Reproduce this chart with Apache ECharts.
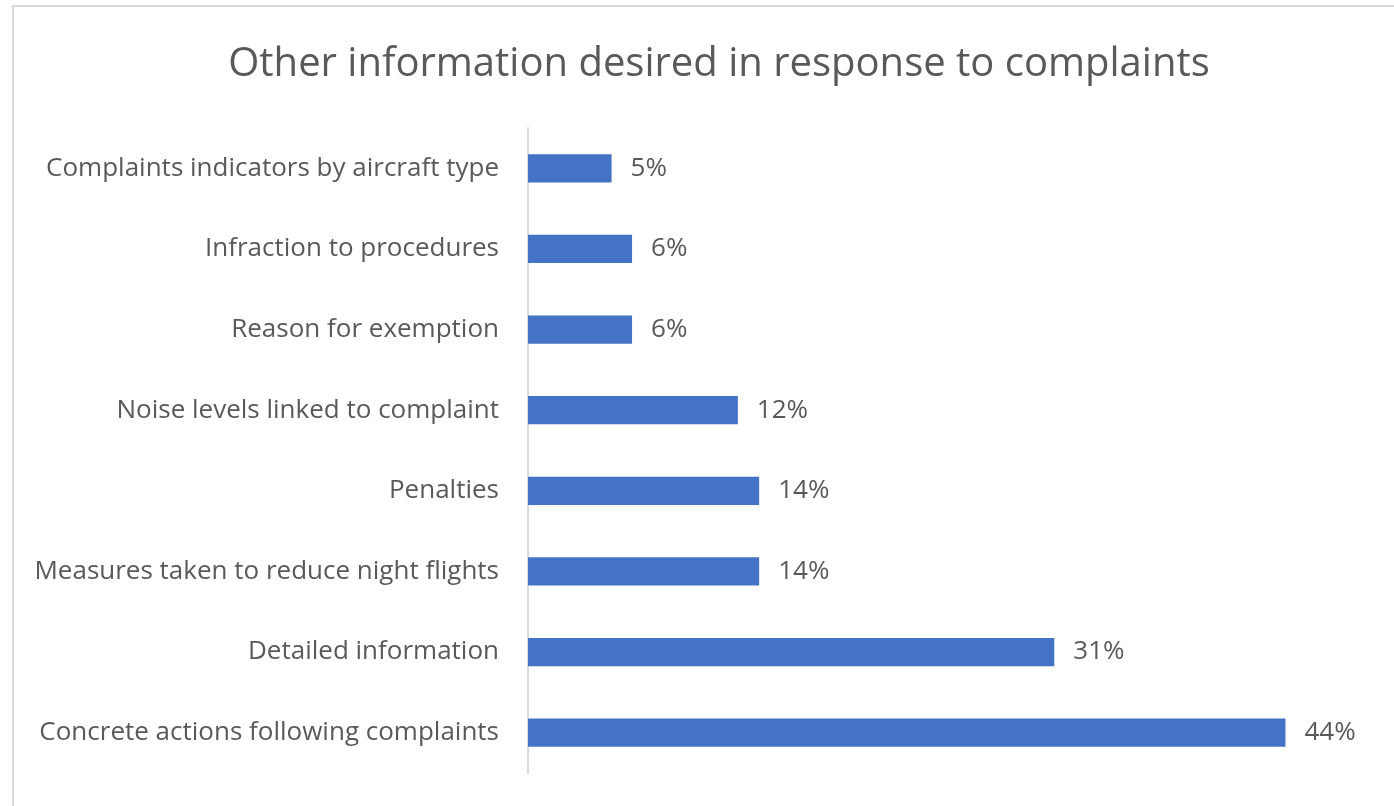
<!DOCTYPE html>
<html>
<head>
<meta charset="utf-8">
<script src="https://cdn.jsdelivr.net/npm/echarts@6/dist/echarts.min.js"></script>
<style>
  html, body { margin: 0; padding: 0; background: #fff; overflow: hidden }
  #chart { position: absolute; left: 0; top: 0; width: 1394px; height: 806px }
  .frame { position: absolute; left: 12px; top: 5px; width: 1500px; height: 900px; border: 2px solid #d9d9d9; pointer-events: none }
</style>
</head>
<body>
<div id="chart"></div>
<div class="frame"></div>
<script>
// categories, top to bottom
const categories = [
  'Complaints indicators by aircraft type',
  'Infraction to procedures',
  'Reason for exemption',
  'Noise levels linked to complaint',
  'Penalties',
  'Measures taken to reduce night flights',
  'Detailed information',
  'Concrete actions following complaints'
]
// share of respondents (%)
const shares = [4.9, 6.1, 6.1, 12.3, 13.55, 13.55, 30.85, 44.4]

const chart = echarts.init(document.getElementById('chart'))
chart.setOption({
  animation: false,
  textStyle: { fontFamily: '"Open Sans", sans-serif' },
  title: {
    text: 'Other information desired in response to complaints',
    left: 714, top: 40, textAlign: 'center',
    textStyle: { fontSize: 40, fontWeight: 'normal', color: '#595959' }
  },
  grid: { left: 528, right: 13, top: 128, bottom: 33 },
  xAxis: {
    type: 'value', min: 0, max: 50,
    show: false
  },
  yAxis: {
    type: 'category', data: categories, inverse: true,
    axisLine: { lineStyle: { color: '#d9d9d9', width: 2 } },
    axisTick: { show: false },
    axisLabel: { fontSize: 26, color: '#595959', margin: 29, padding: [6, 0, 0, 0] }
  },
  series: [{
    type: 'bar', data: shares,
    barCategoryGap: '65%',
    itemStyle: { color: '#4472c4' },
    label: {
      show: true, position: 'right', distance: 19,
      fontSize: 26, color: '#595959', padding: [6, 0, 0, 0],
      formatter: p => Math.round(p.value) + '%'
    }
  }]
})
</script>
</body>
</html>
